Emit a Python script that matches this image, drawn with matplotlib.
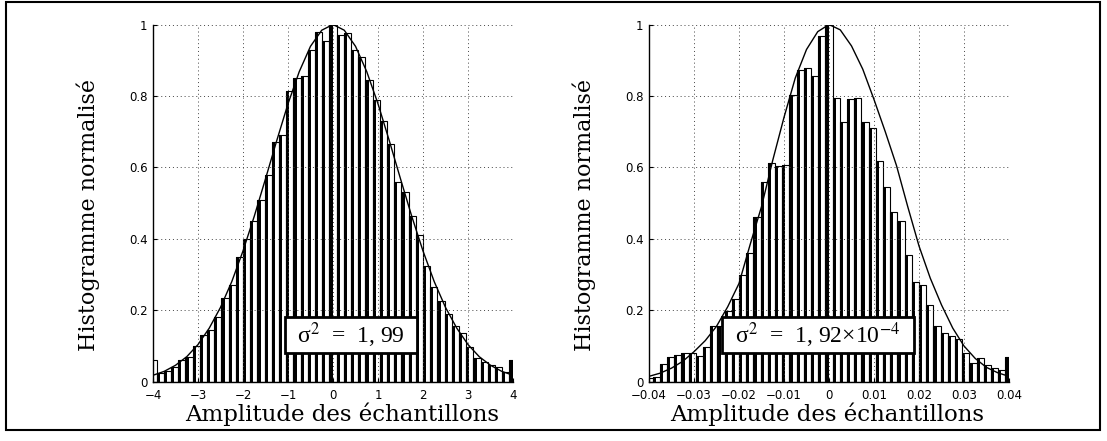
import numpy as np
import matplotlib
matplotlib.use('Agg')
import matplotlib.pyplot as plt
from matplotlib.patches import Rectangle

# ---------------------------------------------------------
# Data (normalised histograms, 51 bins)
# ---------------------------------------------------------
left_range = (-4.0, 4.0)
left_heights = [0.06, 0.023, 0.03, 0.04, 0.06, 0.07, 0.10, 0.13, 0.145, 0.18,
                0.235, 0.27, 0.35, 0.40, 0.45, 0.51, 0.58, 0.67, 0.69, 0.815,
                0.85, 0.855, 0.93, 0.98, 0.955,
                1.0,
                0.97, 0.975, 0.93, 0.91, 0.845, 0.79, 0.73, 0.665, 0.56, 0.53,
                0.465, 0.41, 0.325, 0.265, 0.225, 0.19, 0.155, 0.135, 0.098, 0.065,
                0.056, 0.047, 0.04, 0.028, 0.06]
left_curve_x = [-4, -3.75, -3.5, -3.25, -3, -2.75, -2.5, -2.25, -2, -1.75, -1.5,
                -1.25, -1, -0.75, -0.5, -0.25, 0, 0.25, 0.5, 0.75, 1, 1.25, 1.5,
                1.75, 2, 2.25, 2.5, 2.75, 3, 3.25, 3.5, 3.75, 4]
left_curve_y = [0.018, 0.029, 0.046, 0.07, 0.104, 0.15, 0.208, 0.28, 0.366, 0.463,
                0.568, 0.675, 0.778, 0.868, 0.939, 0.984, 1.0, 0.984, 0.939, 0.868,
                0.778, 0.675, 0.568, 0.463, 0.366, 0.28, 0.208, 0.15, 0.104, 0.07,
                0.046, 0.029, 0.018]
left_ticks = [-4, -3, -2, -1, 0, 1, 2, 3, 4]
left_note = "σ$^{2}$  =  1, 99"

right_range = (-0.04, 0.04)
right_heights = [0.01, 0.013, 0.05, 0.068, 0.074, 0.081, 0.081, 0.072, 0.098, 0.155,
                 0.155, 0.197, 0.232, 0.298, 0.36, 0.462, 0.56, 0.611, 0.604, 0.606,
                 0.804, 0.872, 0.879, 0.856, 0.968,
                 1.0,
                 0.793, 0.728, 0.791, 0.793, 0.726, 0.709, 0.618, 0.546, 0.476, 0.45,
                 0.354, 0.28, 0.27, 0.216, 0.157, 0.135, 0.129, 0.119, 0.079, 0.051,
                 0.065, 0.047, 0.037, 0.033, 0.07]
right_curve_x = [-0.04, -0.0375, -0.035, -0.0325, -0.03, -0.0275, -0.025, -0.0225,
                 -0.02, -0.0175, -0.015, -0.0125, -0.01, -0.0075, -0.005, -0.0025, 0,
                 0.0025, 0.005, 0.0075, 0.01, 0.0125, 0.015, 0.0175, 0.02, 0.0225,
                 0.025, 0.0275, 0.03, 0.0325, 0.035, 0.0375, 0.04]
right_curve_y = [0.015, 0.024, 0.038, 0.057, 0.084, 0.115, 0.155, 0.21, 0.275, 0.385,
                 0.49, 0.62, 0.74, 0.85, 0.93, 0.98, 1.0, 0.985, 0.94, 0.875, 0.79,
                 0.70, 0.605, 0.49, 0.38, 0.29, 0.215, 0.15, 0.10, 0.065, 0.04, 0.025,
                 0.015]
right_ticks = [-0.04, -0.03, -0.02, -0.01, 0, 0.01, 0.02, 0.03, 0.04]
right_note = "σ$^{2}$  =  1, 92×10$^{-4}$"

y_ticks = [0, 0.2, 0.4, 0.6, 0.8, 1]
y_ticklabels = ['0', '0.2', '0.4', '0.6', '0.8', '1']

x_label = "Amplitude des échantillons"
y_label = "Histogramme normalisé"

plt.rcParams['mathtext.fontset'] = 'stix'


def fmt_tick(v):
    if v == 0:
        return '0'
    s = ('%g' % abs(v))
    return ('\u2212' + s) if v < 0 else s


def draw_panel(ax, xr, heights, cx, cy, ticks, note, box, xlab_pos):
    centers = np.linspace(xr[0], xr[1], len(heights))
    step = centers[1] - centers[0]
    # white bar with black outline, black stripe on its left half
    ax.bar(centers - step / 2, heights, width=step, align='edge',
           color='white', edgecolor='black', linewidth=0.8, zorder=2)
    ax.bar(centers - step / 2, heights, width=step * 0.45, align='edge',
           color='black', linewidth=0, zorder=2)
    ax.plot(cx, cy, color='black', linewidth=1.0, zorder=4)

    ax.set_xlim(xr)
    ax.set_ylim(0, 1)
    ax.set_xticks(ticks)
    ax.set_xticklabels([fmt_tick(t) for t in ticks])
    ax.set_yticks(y_ticks)
    ax.set_yticklabels(y_ticklabels)
    ax.tick_params(direction='in', length=3, width=0.8, labelsize=8.5)
    ax.tick_params(axis='x', pad=5)
    ax.tick_params(axis='y', pad=4)
    for t in ax.get_xticklabels() + ax.get_yticklabels():
        t.set_family('DejaVu Sans')

    ax.grid(True, color='#444444', linestyle=(0, (1, 3)), linewidth=0.7, zorder=3)
    ax.set_axisbelow(False)
    for s in ['top', 'right']:
        ax.spines[s].set_visible(False)
    for s in ['left', 'bottom']:
        ax.spines[s].set_linewidth(1.0)
        ax.spines[s].set_zorder(5)

    # sigma box
    x0, x1, y0, y1 = box
    ax.add_patch(Rectangle((x0, y0), x1 - x0, y1 - y0, facecolor='white',
                           edgecolor='black', linewidth=2.0, zorder=6))
    ax.text((x0 + x1) / 2, (y0 + y1) / 2, note, ha='center', va='center',
            fontsize=17, family='Liberation Serif', zorder=7)

    ax.set_xlabel(x_label, fontsize=16.5, family='DejaVu Serif')
    ax.set_ylabel(y_label, fontsize=16, family='DejaVu Serif')
    ax.xaxis.set_label_coords(xlab_pos, -0.058)
    ax.yaxis.set_label_coords(-0.146, 0.467)


fig = plt.figure(figsize=(11.07, 4.41), dpi=100)
ax1 = fig.add_axes([153 / 1107, 59.3 / 441, 360 / 1107, 357.2 / 441])
ax2 = fig.add_axes([649 / 1107, 59.3 / 441, 360 / 1107, 357.2 / 441])

draw_panel(ax1, left_range, left_heights, left_curve_x, left_curve_y,
           left_ticks, left_note, (-1.07, 1.87, 0.08, 0.181), 0.525)
draw_panel(ax2, right_range, right_heights, right_curve_x, right_curve_y,
           right_ticks, right_note, (-0.0238, 0.0189, 0.08, 0.181), 0.494)

# outer frame around the whole figure
fig.patches.append(Rectangle((6 / 1107, 11 / 441), 1094 / 1107, 428 / 441,
                             transform=fig.transFigure, fill=False,
                             edgecolor='black', linewidth=1.5))

fig.savefig('out.png', dpi=100)
